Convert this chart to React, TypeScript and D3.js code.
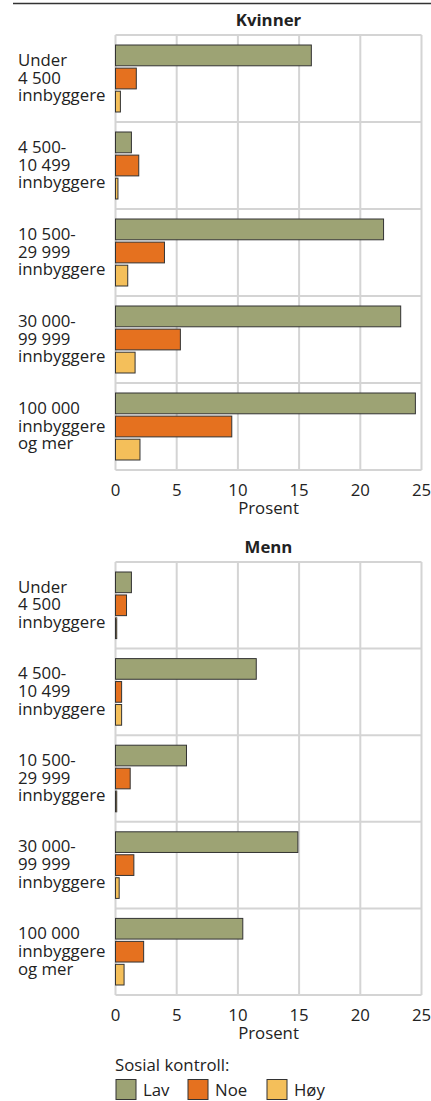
import React from "react";
import * as d3 from "d3";

const categories = [
  ["Under", "4 500", "innbyggere"],
  ["4 500-", "10 499", "innbyggere"],
  ["10 500-", "29 999", "innbyggere"],
  ["30 000-", "99 999", "innbyggere"],
  ["100 000", "innbyggere", "og mer"],
];
const series = ["Lav", "Noe", "Høy"];
const colors = ["#9da374", "#e5711f", "#f4bf5a"];

const kvinnerLav = [16.0, 1.3, 21.9, 23.3, 24.5];
const kvinnerNoe = [1.7, 1.9, 4.0, 5.3, 9.5];
const kvinnerHoy = [0.4, 0.2, 1.0, 1.6, 2.0];

const mennLav = [1.3, 11.5, 5.8, 14.9, 10.4];
const mennNoe = [0.9, 0.5, 1.2, 1.5, 2.3];
const mennHoy = [0.1, 0.5, 0.1, 0.3, 0.7];

const xTicks = [0, 5, 10, 15, 20, 25];
const legendTitle = "Sosial kontroll:";

const FONT = "'Open Sans', sans-serif";
const FS = 16.8;
const TXT = "#222";
const W = 431;
const H = 1101;

type PanelProps = {
  title: string;
  data: number[][];
  top: number;
  bottom: number;
  titleY: number;
};

const Panel = ({ title, data, top, bottom, titleY }: PanelProps) => {
  const x = d3.scaleLinear().domain([0, 25]).range([115.5, 421.5]);
  const y = d3
    .scaleBand<number>()
    .domain(d3.range(categories.length))
    .range([top, bottom]);
  const bw = y.bandwidth();
  const inner = d3
    .scaleBand<number>()
    .domain(d3.range(series.length))
    .range([10, bw - 10])
    .paddingInner(0.1);
  const grid = "#d4d4d4";
  return (
    <g>
      <text
        x={(x(0) + x(25)) / 2}
        y={titleY}
        textAnchor="middle"
        fontWeight="bold"
        fontSize={FS}
        fill={TXT}
      >
        {title}
      </text>
      {xTicks.map((t) => (
        <line
          key={"v" + t}
          x1={x(t)}
          x2={x(t)}
          y1={top}
          y2={bottom}
          stroke={grid}
          strokeWidth={2}
        />
      ))}
      {d3.range(categories.length + 1).map((i) => {
        const yy = i < categories.length ? (y(i) as number) : bottom;
        return (
          <line
            key={"h" + i}
            x1={x(0)}
            x2={x(25)}
            y1={yy}
            y2={yy}
            stroke={grid}
            strokeWidth={2}
          />
        );
      })}
      {categories.map((lines, ci) => {
        const cy = (y(ci) as number) + bw / 2;
        return (
          <g key={"c" + ci}>
            <text fontSize={FS} fill={TXT}>
              {lines.map((l, li) => (
                <tspan key={li} x={18} y={cy + 5 + (li - 1) * 17.8}>
                  {l}
                </tspan>
              ))}
            </text>
            {series.map((s, si) => (
              <rect
                key={s}
                x={x(0)}
                y={(y(ci) as number) + (inner(si) as number)}
                width={Math.max(x(data[si][ci]) - x(0), 0)}
                height={inner.bandwidth()}
                fill={colors[si]}
                stroke="#333"
                strokeWidth={1}
              />
            ))}
          </g>
        );
      })}
      {xTicks.map((t) => (
        <text
          key={"t" + t}
          x={x(t)}
          y={bottom + 26}
          textAnchor="middle"
          fontSize={FS}
          fill={TXT}
        >
          {t}
        </text>
      ))}
      <text
        x={(x(0) + x(25)) / 2}
        y={bottom + 44}
        textAnchor="middle"
        fontSize={FS}
        fill={TXT}
      >
        Prosent
      </text>
    </g>
  );
};

export default function App() {
  const legendX = [116, 188, 267];
  return (
    <div style={{ position: "absolute", left: 0, top: 0 }}>
      <svg width={W} height={H} style={{ display: "block", fontFamily: FONT }}>
        <rect width={W} height={H} fill="#fff" />
        <line x1={13} x2={431} y1={3.5} y2={3.5} stroke="#333" strokeWidth={1.5} />
        <Panel
          title="Kvinner"
          data={[kvinnerLav, kvinnerNoe, kvinnerHoy]}
          top={35}
          bottom={470}
          titleY={26}
        />
        <Panel
          title="Menn"
          data={[mennLav, mennNoe, mennHoy]}
          top={562}
          bottom={995}
          titleY={553}
        />
        <text x={115} y={1071} fontSize={FS} fill={TXT}>
          {legendTitle}
        </text>
        {series.map((s, i) => (
          <g key={s}>
            <rect
              x={legendX[i]}
              y={1079.5}
              width={20}
              height={20}
              fill={colors[i]}
              stroke="#333"
              strokeWidth={1}
            />
            <text x={legendX[i] + 27} y={1096} fontSize={FS} fill={TXT}>
              {s}
            </text>
          </g>
        ))}
      </svg>
    </div>
  );
}
